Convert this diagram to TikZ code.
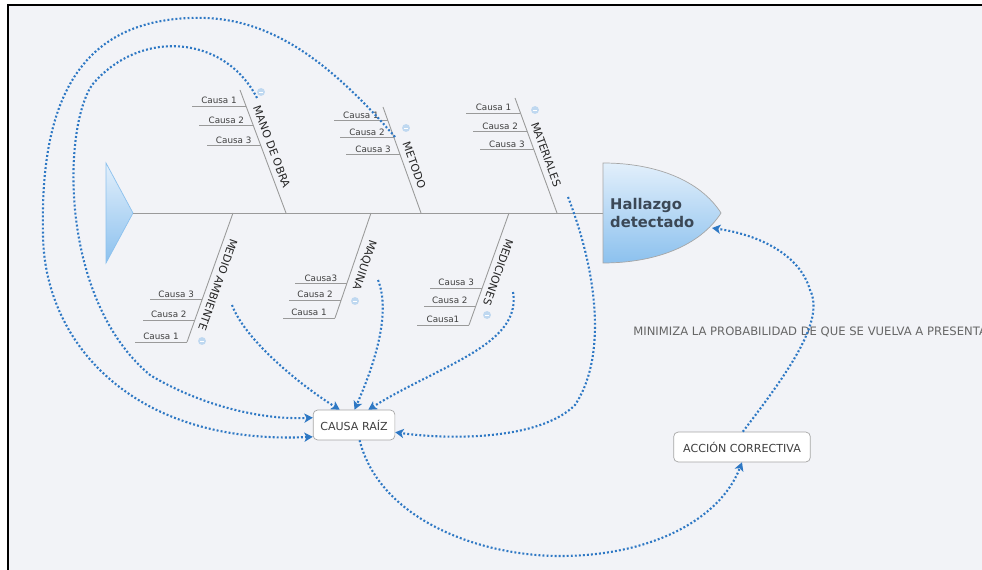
\documentclass[tikz,border=0pt]{standalone}
\usepackage{fontspec}
\setmainfont{DejaVu Sans}
\usetikzlibrary{arrows.meta,calc}

\definecolor{fondo}{HTML}{F2F3F7}
\definecolor{hueso}{HTML}{9A9A9A}
\definecolor{enlace}{HTML}{2E78C4}
\definecolor{azulclaro}{HTML}{E2EFFB}
\definecolor{azulmedio}{HTML}{8CC1EE}
\definecolor{icono}{HTML}{BFD8F0}
\definecolor{pizarra}{HTML}{3B4856}

\begin{document}
\begin{tikzpicture}[x=0.02cm, y=-0.02cm,
    bone/.style={draw=hueso, line width=0.5pt},
    causa/.style={font=\fontsize{5}{6}\selectfont, text=black!75, inner sep=1pt, above},
    rama/.style={font=\fontsize{6.2}{7}\selectfont, text=black!85, inner sep=1pt},
    caja/.style={draw=black!35, fill=white, rounded corners=2.5pt, font=\fontsize{6.3}{7}\selectfont,
        text=black!75, minimum height=17pt, inner xsep=2pt},
    enlace/.style={draw=enlace, line width=1.2pt, dash pattern=on 1.1pt off 1.2pt,
        -{Stealth[length=4.8pt,width=5.2pt,inset=1.2pt]}},
    menos/.style={circle, fill=icono, minimum size=4.5pt, inner sep=0pt,
        path picture={\draw[white, line width=.35pt] ([xshift=-1.2pt]path picture bounding box.center)
            -- ([xshift=1.2pt]path picture bounding box.center);}}]
    \useasboundingbox (0,0) rectangle (982,570);
    \fill[white] (0,0) rectangle (982,570);
    \fill[fondo] (8,5) rectangle (982,570);
    \draw[line width=1.3pt] (982,5) -- (8,5) -- (8,570);

    % cola y cabeza
    \shade[top color=azulclaro, bottom color=azulmedio, draw=azulmedio] (106,163) -- (133,213) -- (106,263) -- cycle;
    \draw[bone] (133,213) -- (603,213);
    \shade[top color=azulclaro, bottom color=azulmedio, draw=black!35, line width=.4pt]
        (603,163) .. controls (655,163) and (700,180) .. (721,213)
        .. controls (700,246) and (655,263) .. (603,263) -- cycle;
    \node[anchor=west, align=left, font=\bfseries\fontsize{8.4}{10.2}\selectfont, text=pizarra]
        (hallazgo) at (604,213) {Hallazgo\\detectado};
    \coordinate (hallazgo-c) at (712,228);

    % espinas de arriba
    \coordinate (mano-a) at (240,90);    \coordinate (mano-b) at (286,213);
    \coordinate (metodo-a) at (383,107); \coordinate (metodo-b) at (421,213);
    \coordinate (mat-a) at (515,98);     \coordinate (mat-b) at (557,213);
    \draw[bone] (mano-a) -- (mano-b) node[rama, pos=.49, sloped, above=2pt] {MANO DE OBRA};
    \draw[bone] (metodo-a) -- (metodo-b) node[rama, pos=.58, sloped, above=2pt] {METODO};
    \draw[bone] (mat-a) -- (mat-b) node[rama, pos=.52, sloped, above=2pt] {MATERIALES};
    \foreach \h in {mano,metodo,mat}
        \foreach \t/\txt in {.13/Causa 1,.29/Causa 2,.45/Causa 3}
            \draw[bone] ($(\h-a)!\t!(\h-b)$) -- ++(-54,0) node[causa, midway] {\txt};

    % espinas de abajo
    \coordinate (amb-a) at (233,213); \coordinate (amb-b) at (187,342);
    \coordinate (maq-a) at (371,213); \coordinate (maq-b) at (335,318);
    \coordinate (med-a) at (509,213); \coordinate (med-b) at (469,325);
    \draw[bone] (amb-a) -- (amb-b) node[rama, pos=.53, sloped, allow upside down, above=2pt] {MEDIO AMBIENTE};
    \draw[bone] (maq-a) -- (maq-b) node[rama, pos=.46, sloped, allow upside down, above=2pt] {MAQUINA};
    \draw[bone] (med-a) -- (med-b) node[rama, pos=.50, sloped, allow upside down, above=2pt] {MEDICIONES};
    \foreach \h/\uno/\tres in {amb/Causa 1/Causa 3, maq/Causa 1/Causa3, med/Causa1/Causa 3}
        \foreach \t/\txt in {.67/\tres,.83/Causa 2,1/\uno}
            \draw[bone] ($(\h-a)!\t!(\h-b)$) -- ++(-52,0) node[causa, midway] {\txt};

    % iconos
    \node[menos] (mano-m) at (261,92) {};
    \node[menos] (metodo-m) at (406,128) {};
    \node[menos] (mat-m) at (535,110) {};
    \node[menos] (amb-m) at (202,341) {};
    \node[menos] (maq-m) at (355,301) {};
    \node[menos] (med-m) at (487,315) {};

    % cajas
    \node[caja, minimum width=46.5pt] (raiz) at (354,425) {CAUSA RAÍZ};
    \node[caja, minimum width=77.7pt] (accion) at (742,447) {ACCIÓN CORRECTIVA};
    \begin{scope}
        \clip (0,0) rectangle (982,570);
        \node[anchor=west, font=\fontsize{6.6}{7}\selectfont, text=black!60, inner sep=0pt]
            (minimiza) at (633,332) {MINIMIZA LA PROBABILIDAD DE QUE SE VUELVA A PRESENTAR};
    \end{scope}

    % enlaces
    \coordinate (mano-c) at (257,98);
    \coordinate (metodo-c) at (395,137);
    \coordinate (mat-c) at (568,197);
    \coordinate (amb-c) at (232,305);
    \coordinate (maq-c) at (378,280);
    \coordinate (med-c) at (513,292);
    \draw[enlace] (mano-c) .. controls (225,35) and (140,28) .. (92,85)
        .. controls (62,130) and (60,300) .. (150,375)
        .. controls (200,405) and (260,420) .. (raiz.170);
    \draw[enlace] (metodo-c) .. controls (320,50) and (260,15) .. (190,18)
        .. controls (80,22) and (40,100) .. (43,233)
        .. controls (43,340) and (130,445) .. (raiz.196);
    \draw[enlace] (amb-c) .. controls (245,340) and (300,385) .. (raiz.133);
    \draw[enlace] (maq-c) .. controls (392,315) and (372,370) .. (raiz.88);
    \draw[enlace] (med-c) .. controls (522,345) and (440,365) .. (raiz.47);
    \draw[enlace] (mat-c) .. controls (600,280) and (605,360) .. (575,405)
        .. controls (540,440) and (450,440) .. (raiz.350);
    \draw[enlace] (raiz.290) .. controls (380,520) and (480,556) .. (560,556)
        .. controls (650,556) and (720,520) .. (accion.south);
    \draw[enlace] (accion.87) .. controls (790,370) and (825,320) .. (810,290)
        .. controls (800,255) and (760,235) .. (hallazgo-c);
\end{tikzpicture}
\end{document}
